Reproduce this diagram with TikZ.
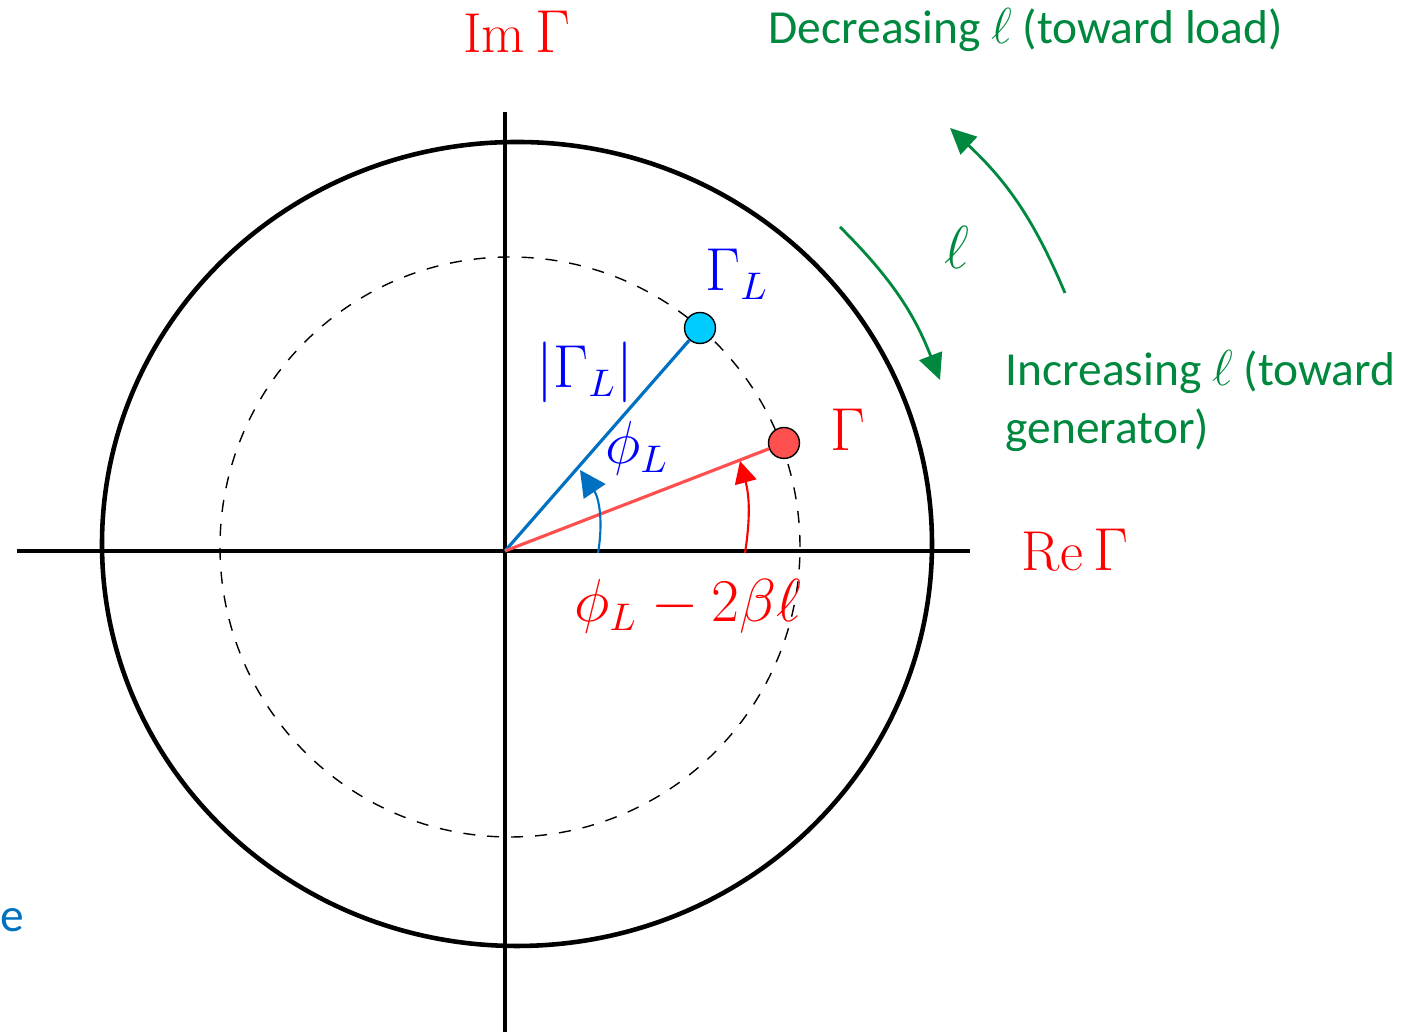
\documentclass[tikz,border=0pt]{standalone}
\usepackage{fontspec}
\usepackage{tikz}
\usetikzlibrary{arrows.meta,positioning,shapes.geometric}
\newfontfamily\calib{Carlito}
\definecolor{gamred}{RGB}{255,0,0}
\definecolor{linered}{RGB}{255,80,80}
\definecolor{gamblue}{RGB}{0,0,255}
\definecolor{lineblue}{RGB}{0,112,192}
\definecolor{dotcyan}{RGB}{0,204,255}
\definecolor{dirgreen}{RGB}{0,136,62}
\tikzset{
  axis/.style={line width=1.3pt},
  unitcirc/.style={line width=1.3pt},
  magcirc/.style={thin, dash pattern=on 1.2mm off 1.2mm},
  gdot/.style={circle, draw, thin, inner sep=0pt, minimum size=0.31cm},
  mlabel/.style={font=\fontsize{16}{19}\selectfont, inner sep=1pt},
  glabel/.style={font=\calib\fontsize{13.5}{16.5}\selectfont, text=dirgreen, inner sep=0pt},
  anglearrow/.style={-{Triangle[length=2.2mm, width=2.2mm]}, semithick},
  dirarrow/.style={-{Triangle[length=2.6mm, width=2.4mm]}, thick, dirgreen}
}

\begin{document}
\begin{tikzpicture}
  \useasboundingbox (0,0) rectangle (14.02,10.34);

  % axes
  \coordinate (O) at (5.05,4.83);
  \coordinate (xl) at (0.17,4.83);
  \coordinate (xr) at (9.70,4.83);
  \coordinate (yb) at (5.05,0.02);
  \coordinate (yt) at (5.05,9.22);
  \draw[axis] (xl) -- (xr);
  \draw[axis] (yb) -- (yt);

  % |Gamma|=1 and |Gamma_L| circles
  \draw[unitcirc] (5.17,4.90) ellipse [x radius=4.15, y radius=4.02];
  \draw[magcirc] (5.10,4.87) circle [radius=2.90];

  % phasors
  \node[gdot, fill=dotcyan] (gl) at (7.00,7.06) {};
  \node[gdot, fill=linered] (g) at (7.84,5.91) {};
  \draw[lineblue, line width=0.9pt] (O) -- (gl);
  \draw[linered, line width=0.9pt] (O) -- (g);

  % angles
  \coordinate (phis) at (5.98,4.81);
  \coordinate (phie) at (5.80,5.64);
  \coordinate (bls) at (7.45,4.81);
  \coordinate (ble) at (7.40,5.73);
  \draw[semithick, lineblue, -{Triangle[length=2.6mm, width=2.6mm, fill=lineblue]}] (phis) to[bend right=22] (phie);
  \draw[anglearrow, gamred] (bls) to[bend right=12] (ble);

  % labels
  \node[mlabel, text=gamred] (im) at (5.17,10.02) {$\mathrm{Im}\,\Gamma$};
  \node[mlabel, text=gamred] (re) at (10.75,4.84) {$\mathrm{Re}\,\Gamma$};
  \node[mlabel, text=gamblue] (gll) at (7.37,7.60) {$\Gamma_L$};
  \node[mlabel, text=gamblue] (mag) at (5.85,6.62) {$\left|\Gamma_L\right|$};
  \node[mlabel, text=gamblue] (phil) at (6.37,5.86) {$\phi_L$};
  \node[mlabel, text=gamred] (gm) at (8.48,6.04) {$\Gamma$};
  \node[mlabel, text=gamred] (phib) at (6.88,4.28) {$\phi_L - 2\beta\ell$};

  % direction of travel
  \coordinate (incs) at (8.40,8.07);
  \coordinate (ince) at (9.40,6.54);
  \coordinate (decs) at (10.65,7.41);
  \coordinate (dece) at (9.50,9.06);
  \draw[dirarrow] (incs) to[bend left=12] (ince);
  \draw[dirarrow] (decs) to[bend right=12] (dece);
  \node[mlabel, text=dirgreen] (ell) at (9.57,7.87) {$\ell$};
  \node[glabel, anchor=west] (dec) at (7.68,10.04) {Decreasing $\ell$ (toward load)};
  \node[glabel, anchor=west, align=left] (inc) at (10.05,6.33) {Increasing $\ell$ (toward\\generator)};
  \node[glabel, text=lineblue, anchor=west] (e) at (0.00,1.14) {e};
\end{tikzpicture}
\end{document}
